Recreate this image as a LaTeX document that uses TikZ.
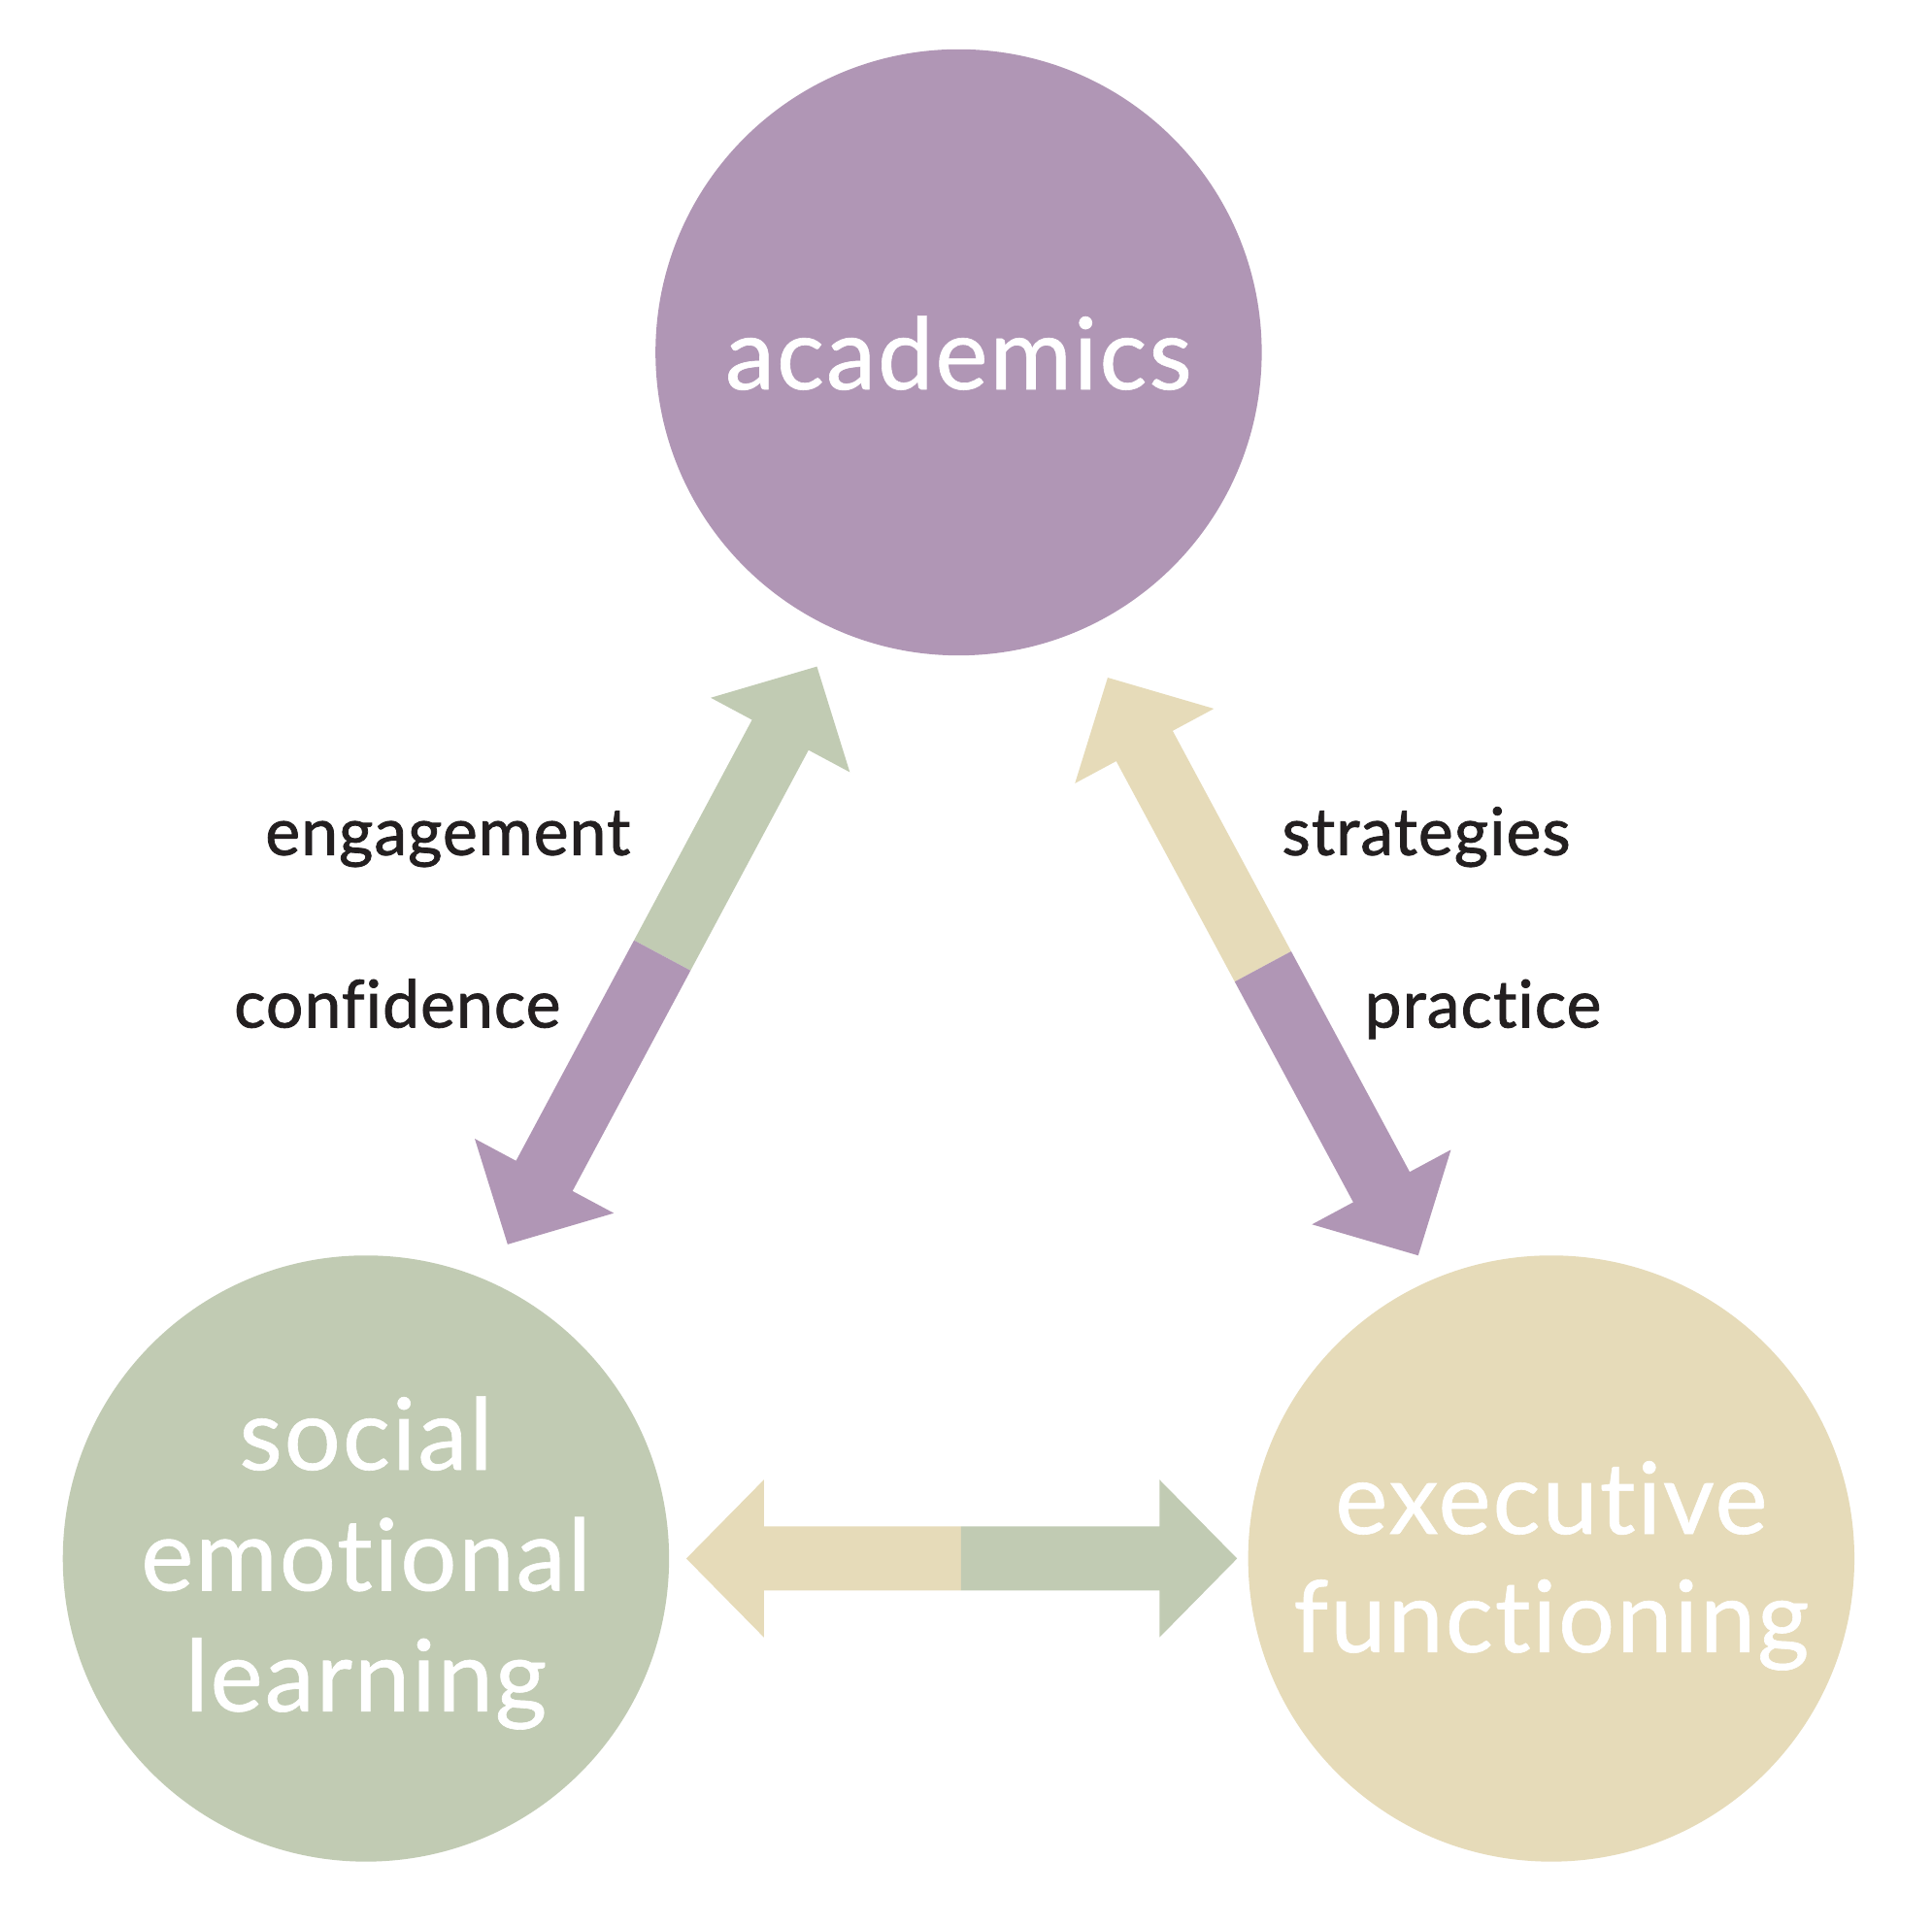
\documentclass[tikz,border=0pt]{standalone}
\usepackage{fontspec}
\setmainfont{Lato}[Ligatures={NoCommon}]
\newfontfamily\bubfont{Lato}[Ligatures={NoCommon}, LetterSpace=1.8, BoldFont=Lato, BoldFeatures={FakeBold=0.6}]
\newfontfamily\lblfont{Lato}[Ligatures={NoCommon}, LetterSpace=1.5, BoldFont=Lato, BoldFeatures={FakeBold=1.2}]
\usetikzlibrary{calc}
\definecolor{acadcol}{HTML}{B096B5}
\definecolor{selcol}{HTML}{C1CBB3}
\definecolor{efcol}{HTML}{E6DBB9}
\definecolor{inkcol}{HTML}{231F20}
\tikzset{
  bubble/.style={circle, minimum size=492pt, inner sep=0pt, draw=none},
  bubbletext/.style={text=white, inner sep=0pt, anchor=base, font=\bubfont\bfseries\fontsize{81}{98}\selectfont},
  linktext/.style={text=inkcol, inner sep=0pt, anchor=base, font=\lblfont\bfseries\fontsize{53.5}{60}\selectfont},
}
% half of a double arrow: from middle (#1) to tip (#2), colour #3
\newcommand\halfarr[3]{%
  \path ($(#2)!63pt!(#1)$) coordinate (hb);
  \fill[#3] ($(#1)!26pt!90:(#2)$) -- ($(hb)!26pt!90:(#2)$) -- ($(hb)!64pt!90:(#2)$)
     -- (#2) -- ($(hb)!64pt!-90:(#2)$) -- ($(hb)!26pt!-90:(#2)$) -- ($(#1)!26pt!-90:(#2)$) -- cycle;
}
\begin{document}
\begin{tikzpicture}[x=1pt,y=-1pt]
\fill[white] (0,0) rectangle (1568,1562.5);
\useasboundingbox (0,0) rectangle (1568,1562.5);
% circles
\node[bubble, fill=acadcol] (acad) at (778,286) {};
\node[bubble, fill=selcol] (sel) at (297,1265) {};
\node[bubble, fill=efcol] (ef) at (1259,1265) {};
% circle texts
\node[bubbletext] (acadt) at (778,316) {academics};
\node[bubbletext] (selt1) at (297,1193) {social};
\node[bubbletext] (selt2) at (297,1291) {emotional};
\node[bubbletext] (selt3) at (297,1389) {learning};
\node[bubbletext] (eft1) at (1259,1245) {executive};
\node[bubbletext] (eft2) at (1259,1341) {functioning};
% arrow end points
\coordinate (lt) at (663,541);
\coordinate (lb) at (412,1010);
\coordinate (rt) at (899,550);
\coordinate (rb) at (1151,1019);
\coordinate (hl) at (557,1265);
\coordinate (hr) at (1004,1265);
\coordinate (lm) at ($(lt)!0.5!(lb)$);
\coordinate (rm) at ($(rt)!0.5!(rb)$);
\coordinate (hm) at (780,1265);
% arrows
\halfarr{lm}{lt}{selcol}
\halfarr{lm}{lb}{acadcol}
\halfarr{rm}{rt}{efcol}
\halfarr{rm}{rb}{acadcol}
\halfarr{hm}{hl}{efcol}
\halfarr{hm}{hr}{selcol}
% labels
\node[linktext] (eng) at (363.5,694) {engagement};
\node[linktext] (conf) at (322.5,834) {confidence};
\node[linktext] (strat) at (1157.5,694) {strategies};
\node[linktext] (prac) at (1203.5,834) {practice};
\end{tikzpicture}
\end{document}
